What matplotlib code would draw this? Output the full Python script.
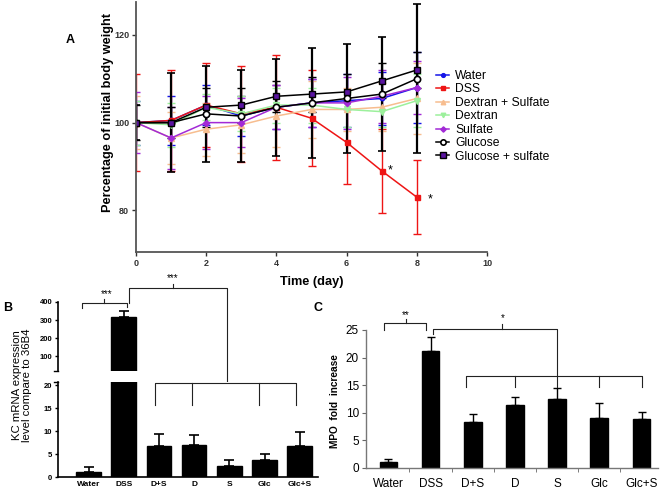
import numpy as np
import matplotlib
matplotlib.use('Agg')
import matplotlib.pyplot as plt
from matplotlib import transforms
from matplotlib.lines import Line2D

plt.rcParams['font.family'] = ['Liberation Sans', 'DejaVu Sans']

# ---- panel A data: body weight (% of initial) per day ----
days = [0, 1, 2, 3, 4, 5, 6, 7, 8]
water = [100, 100.5, 104.0, 101.5, 103.5, 104.5, 105.0, 105.5, 108.0]
dss = [100, 100.5, 104.0, 102.0, 103.5, 101.0, 95.5, 89.0, 83.0]
dex_sulf = [100, 96.5, 98.5, 99.5, 101.5, 103.0, 103.0, 103.5, 105.5]
dextran = [100, 99.5, 103.5, 102.0, 104.0, 104.0, 103.0, 102.5, 105.0]
sulfate = [100, 96.5, 100.0, 100.0, 103.5, 104.5, 104.5, 106.0, 108.0]
glucose = [100, 100.0, 102.0, 101.5, 103.5, 104.5, 105.5, 106.5, 110.0]
glc_sulf = [100, 100.0, 103.5, 104.0, 106.0, 106.5, 107.0, 109.5, 112.0]

water_err = [5, 5.5, 4.5, 4.5, 5, 5.5, 6, 6, 8]
dss_err = [11, 11.5, 9.5, 11, 12, 11, 9.5, 9.5, 8.5]
dex_sulf_err = [6, 6, 6, 6.5, 7, 6.5, 5, 5.5, 8]
dextran_err = [5, 5, 3, 4, 4, 4, 4, 3.5, 6]
sulfate_err = [7, 7, 6, 5.5, 5, 5.5, 6, 6, 6]
glucose_err = [4, 11.3, 11, 10.5, 11, 12.5, 12.5, 13, 17]
glc_sulf_err = [4, 3.5, 4.5, 4, 3.5, 4, 4, 4, 4]

# ---- panel B / C data ----
groups = ['Water', 'DSS', 'D+S', 'D', 'S', 'Glc', 'Glc+S']
kc_mean = [1.1, 318, 6.8, 6.9, 2.4, 3.6, 6.7]
kc_err = [1.1, 32, 2.5, 2.2, 1.3, 1.5, 3.0]
mpo_mean = [1.1, 21.2, 8.4, 11.4, 12.5, 9.1, 8.8]
mpo_err = [0.6, 2.5, 1.4, 1.4, 2.0, 2.6, 1.4]

W, H = 661, 495
fig = plt.figure(figsize=(W / 100, H / 100), dpi=100)
fig.patch.set_facecolor('white')


def px_ax(left, top, right, bottom):
    # axes rectangle from pixel edges
    return fig.add_axes([left / W, 1 - bottom / H, (right - left) / W, (bottom - top) / H])


# ================= Panel A =================
axA = px_ax(136, 2, 487, 252)
series = [
    ('Water', water, water_err, dict(color='#1515e8', marker='o', ms=3.2)),
    ('DSS', dss, dss_err, dict(color='#ee1515', marker='s', ms=3.6)),
    ('Dextran + Sulfate', dex_sulf, dex_sulf_err, dict(color='#f7bd8f', marker='^', ms=3.8)),
    ('Dextran', dextran, dextran_err, dict(color='#9cf09c', marker='v', ms=3.8)),
    ('Sulfate', sulfate, sulfate_err, dict(color='#a22ad6', marker='D', ms=3.2)),
    ('Glucose', glucose, glucose_err, dict(color='black', marker='o', ms=4.5, mfc='white', mew=1.2)),
    ('Glucose + sulfate', glc_sulf, glc_sulf_err, dict(color='black', marker='s', ms=5, mfc='#5a14a0', mew=1.0)),
]
handles = []
for name, vals, err, st in series:
    elw = 1.6 if name == 'Glucose' else 1.0
    axA.errorbar(days, vals, yerr=err, lw=1.1, elinewidth=elw,
                 capsize=2.6, capthick=elw, **st)
    hst = dict(st)
    hst['ms'] = st['ms'] * 0.85
    handles.append(Line2D([], [], lw=1.1, label=name, **hst))

axA.set_xlim(0, 10)
axA.set_ylim(70.5, 127.5)
axA.set_xticks([0, 2, 4, 6, 8, 10])
axA.set_yticks([80, 100, 120])
for s in ['top', 'right']:
    axA.spines[s].set_visible(False)
for s in ['left', 'bottom']:
    axA.spines[s].set_color('#555555')
    axA.spines[s].set_linewidth(1.3)
axA.tick_params(direction='out', length=3, width=1, colors='#333333', labelsize=6.5, pad=2)
for lab in axA.get_xticklabels() + axA.get_yticklabels():
    lab.set_fontweight('bold')
axA.set_xlabel('Time (day)', fontsize=9.2, fontweight='bold', labelpad=6)
axA.set_ylabel('Percentage of initial body weight', fontsize=9.2, fontweight='bold')
axA.yaxis.set_label_coords(-0.064, 0.556)

axA.annotate('*', (7, dss[7]), xytext=(4, -2), textcoords='offset points', fontsize=9)
axA.annotate('*', (8, dss[8]), xytext=(8, -4), textcoords='offset points', fontsize=9)

axA.legend(handles=handles, loc='upper left', bbox_to_anchor=(436 / W, 1 - 70 / H),
           bbox_transform=fig.transFigure, frameon=False, fontsize=8.7, handlelength=1.1,
           handletextpad=0.5, labelspacing=0.12, borderpad=0, borderaxespad=0)

fig.text(70 / W, 1 - 40 / H, 'A', fontsize=9, fontweight='bold', ha='center', va='center')

# ================= Panel B (broken axis) =================
xb = np.arange(len(groups))
axBu = px_ax(58, 302, 318, 371)
axBl = px_ax(58, 382, 318, 477)
for ax in (axBu, axBl):
    ax.bar(xb, kc_mean, width=0.7, color='black', edgecolor='black')
    ax.errorbar(xb, kc_mean, yerr=[np.zeros(len(kc_err)), kc_err], fmt='none',
                ecolor='black', elinewidth=1.2, capsize=3.5, capthick=1.2)
    ax.set_xlim(-0.87, 6.52)
    for s in ['top', 'right']:
        ax.spines[s].set_visible(False)
    for s in ['left', 'bottom']:
        ax.spines[s].set_linewidth(1.2)
    ax.tick_params(axis='y', direction='out', length=2.5, width=1, labelsize=5.5, pad=1.5)

axBu.set_ylim(20, 400)
axBu.set_yticks([100, 200, 300, 400])
axBu.spines['bottom'].set_visible(False)
axBu.set_xticks([])
axBl.set_ylim(0, 20.7)
axBl.set_yticks([0, 5, 10, 15, 20])
axBl.set_xticks(xb)
axBl.set_xticklabels(groups, fontsize=6, fontweight='bold')
axBl.tick_params(axis='x', length=0, pad=3)
for lab in axBu.get_yticklabels() + axBl.get_yticklabels():
    lab.set_fontweight('bold')
# small break caps on the y axis
axBu.plot([-0.015, 0.0], [0, 0], transform=axBu.transAxes, color='black', lw=1, clip_on=False)
axBl.plot([-0.015, 0.0], [1, 1], transform=axBl.transAxes, color='black', lw=1, clip_on=False)

fig.text(22 / W, 1 - 385 / H, 'KC mRNA expression\nlevel compare to 36B4', rotation=90,
         fontsize=8.2, ha='center', va='center', linespacing=1.05)
fig.text(8 / W, 1 - 308 / H, 'B', fontsize=9, fontweight='bold', ha='center', va='center')


def bracket(ax, xs, ys_px, **kw):
    # significance bracket: x in category units, y in figure pixels from top
    tr = transforms.blended_transform_factory(ax.transData, fig.transFigure)
    ax.plot(xs, [1 - y / H for y in ys_px], transform=tr, clip_on=False,
            color=kw.get('color', '#222222'), lw=kw.get('lw', 0.8))


def star(ax, x, y_px, txt, size=7):
    tr = transforms.blended_transform_factory(ax.transData, fig.transFigure)
    ax.text(x, 1 - y_px / H, txt, transform=tr, ha='center', va='center', fontsize=size)


# B brackets
bracket(axBu, [-0.2, -0.2, 1.1, 1.1], [308, 303, 303, 307])
bracket(axBu, [0.45, 0.45], [303, 299])
star(axBu, 0.5, 294, '***')
bracket(axBu, [1.15, 1.15, 3.93, 3.93], [303, 288, 288, 405])
bracket(axBu, [2.4, 2.4], [288, 284])
star(axBu, 2.4, 278, '***')
bracket(axBl, [1.9, 1.9, 5.9, 5.9], [405, 383, 383, 405])
for k in [2.95, 4.85]:
    bracket(axBl, [k, k], [383, 405])

# ================= Panel C =================
xc = np.arange(len(groups))
axC = px_ax(366, 330, 658, 468)
axC.bar(xc, mpo_mean, width=0.42, color='black', edgecolor='black')
axC.errorbar(xc, mpo_mean, yerr=[np.zeros(len(mpo_err)), mpo_err], fmt='none',
             ecolor='black', elinewidth=1.0, capsize=3, capthick=1.0)
axC.set_xlim(-0.53, 6.39)
axC.set_ylim(0, 25)
axC.set_yticks([0, 5, 10, 15, 20, 25])
axC.set_xticks(xc)
axC.set_xticklabels(groups, fontsize=8.5)
axC.set_xticks(np.arange(0.5, 6.5, 1), minor=True)
axC.tick_params(axis='x', which='major', length=0, pad=7)
axC.tick_params(axis='x', which='minor', length=3, direction='out', color='#666666')
axC.tick_params(axis='y', direction='out', length=3, labelsize=8.5, color='#666666', pad=2)
for s in ['top', 'right']:
    axC.spines[s].set_visible(False)
for s in ['left', 'bottom']:
    axC.spines[s].set_color('#777777')
    axC.spines[s].set_linewidth(1.0)
fig.text(335 / W, 1 - 401 / H, 'MPO  fold  increase', rotation=90, fontsize=7.3,
         fontweight='bold', ha='center', va='center')
fig.text(318 / W, 1 - 308 / H, 'C', fontsize=9, fontweight='bold', ha='center', va='center')

# C brackets
bracket(axC, [-0.1, -0.1, 0.9, 0.9], [330, 323, 323, 330])
bracket(axC, [0.42, 0.42], [323, 319])
star(axC, 0.42, 315, '**')
bracket(axC, [1.05, 1.05, 4.0, 4.0], [334, 329, 329, 387])
bracket(axC, [2.7, 2.7], [329, 324])
star(axC, 2.7, 318, '*')
bracket(axC, [1.85, 1.85, 6.0, 6.0], [387, 376, 376, 387])
for k in [3.0, 5.0]:
    bracket(axC, [k, k], [376, 387])

fig.savefig('out.png', dpi=100)
